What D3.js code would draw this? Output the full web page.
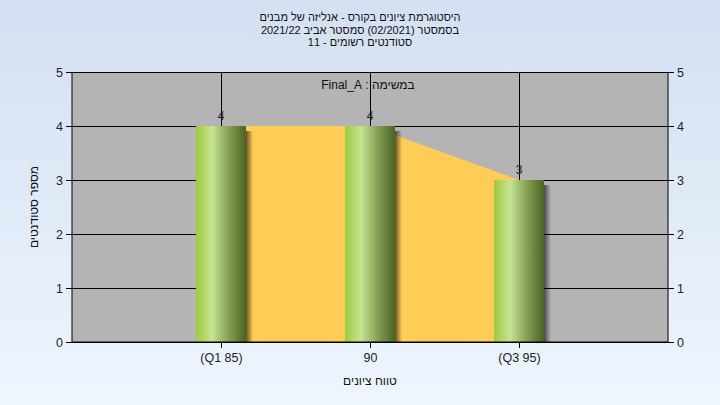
<!DOCTYPE html>
<html><head><meta charset="utf-8">
<script src="https://cdn.jsdelivr.net/npm/d3@7"></script>
<style>body{margin:0;}svg{display:block;font-family:"Liberation Sans",Arial,sans-serif;}</style>
</head><body>
<script>
const categories = ["(Q1 85)", "90", "(Q3 95)"];
const barValues = [4, 4, 3];
const areaValues = [4, 4, 3];
const yTicks = [0, 1, 2, 3, 4, 5];
const titleLines = ["היסטוגרמת ציונים בקורס - אנליזה של מבנים", "בסמסטר  (02/2021)  סמסטר אביב 2021/22", "סטודנטים רשומים - 11"];
const legendText = "במשימה : Final_A";
const xTitle = "טווח ציונים";
const yTitle = "מספר סטודנטים";

const W = 720, H = 405;
const m = {l: 72, r: 52, t: 72, b: 63};
const svg = d3.select("body").append("svg").attr("width", W).attr("height", H);
const defs = svg.append("defs");
const bg = defs.append("linearGradient").attr("id", "bg").attr("x1", 0).attr("y1", 0).attr("x2", 0).attr("y2", 1);
bg.append("stop").attr("offset", 0).attr("stop-color", "#d3e0f1");
bg.append("stop").attr("offset", 1).attr("stop-color", "#eef5fd");
const bar = defs.append("linearGradient").attr("id", "bar").attr("x1", 0).attr("y1", 0).attr("x2", 1).attr("y2", 0);
[[0, "#9ccb3c"], [0.32, "#c7e394"], [0.65, "#86a055"], [1, "#4a6422"]].forEach(s => bar.append("stop").attr("offset", s[0]).attr("stop-color", s[1]));
const sh = defs.append("linearGradient").attr("id", "sh").attr("x1", 0).attr("y1", 0).attr("x2", 1).attr("y2", 0);
sh.append("stop").attr("offset", 0).attr("stop-color", "#000").attr("stop-opacity", 0.6);
sh.append("stop").attr("offset", 1).attr("stop-color", "#000").attr("stop-opacity", 0);

svg.append("rect").attr("width", W).attr("height", H).attr("fill", "url(#bg)");

const x = d3.scaleLinear().domain([0, categories.length + 1]).range([m.l, W - m.r]);
const y = d3.scaleLinear().domain([0, 5]).range([H - m.b, m.t]);
const pw = W - m.r - m.l;

svg.append("rect").attr("x", m.l).attr("y", m.t).attr("width", pw).attr("height", y(0) - m.t).attr("fill", "#b4b4b4");

// grid
svg.append("g").selectAll("line.h").data(yTicks).join("line")
  .attr("x1", m.l).attr("x2", W - m.r).attr("y1", d => y(d) + 0.5).attr("y2", d => y(d) + 0.5)
  .attr("stroke", "#000").attr("stroke-width", 1);
svg.append("g").selectAll("line.v").data(categories).join("line")
  .attr("x1", (d, i) => Math.round(x(i + 1)) + 0.5).attr("x2", (d, i) => Math.round(x(i + 1)) + 0.5)
  .attr("y1", m.t).attr("y2", y(0)).attr("stroke", "#000");

// area
const area = d3.area().x((d, i) => x(i + 1)).y0(y(0)).y1(d => y(d));
svg.append("path").datum(areaValues).attr("d", area).attr("fill", "#ffcc55");

// bars
const bw = 50;
const bars = svg.append("g");
barValues.forEach((v, i) => {
  const cx = x(i + 1);
  bars.append("rect").attr("x", cx + bw / 2).attr("y", y(v) + 5).attr("width", 7).attr("height", y(0) - y(v) - 5).attr("fill", "url(#sh)");
  bars.append("rect").attr("x", cx - bw / 2).attr("y", y(v)).attr("width", bw).attr("height", y(0) - y(v)).attr("fill", "url(#bar)");
  svg.append("text").attr("x", cx).attr("y", y(v) - 6).attr("text-anchor", "middle").attr("font-size", 12).attr("fill", "#222").text(v);
});

// axes
const axL = d3.axisLeft(y).tickValues(yTicks).tickFormat(d3.format("d")).tickSize(6).tickPadding(3);
const axR = d3.axisRight(y).tickValues(yTicks).tickFormat(d3.format("d")).tickSize(6).tickPadding(3);
const axB = d3.axisBottom(x).tickValues(categories.map((d, i) => i + 1)).tickFormat((d) => categories[d - 1]).tickSize(6).tickPadding(5);
function style(g) {
  g.selectAll("path").attr("stroke", "#000");
  g.selectAll("line").attr("stroke", "#000");
  g.selectAll("text").attr("font-size", 12.5).attr("fill", "#222").attr("font-family", "Liberation Sans, Arial, sans-serif");
}
svg.append("g").attr("transform", `translate(${m.l},0)`).call(axL).call(style).call(g => g.select(".domain").attr("d", `M0,${m.t}V${y(0)}`));
svg.append("g").attr("transform", `translate(${W - m.r},0)`).call(axR).call(style).call(g => g.select(".domain").attr("d", `M0,${m.t}V${y(0)}`));
svg.append("g").attr("transform", `translate(0,${y(0)})`).call(axB).call(style).call(g => g.select(".domain").attr("d", `M${m.l},0H${W - m.r}`));

// titles
svg.append("g").selectAll("text").data(titleLines).join("text")
  .attr("x", 360).attr("y", (d, i) => 21 + i * 12.5).attr("text-anchor", "middle").attr("direction", "rtl")
  .attr("font-size", 11).attr("fill", "#111").text(d => d);
svg.append("text").attr("x", 368).attr("y", 89).attr("text-anchor", "middle").attr("direction", "rtl")
  .attr("font-size", 12).attr("fill", "#111").text(legendText);
svg.append("text").attr("x", 370).attr("y", 385).attr("text-anchor", "middle").attr("direction", "rtl")
  .attr("font-size", 12).attr("fill", "#111").text(xTitle);
svg.append("text").attr("transform", `translate(38,${(m.t + y(0)) / 2}) rotate(-90)`).attr("text-anchor", "middle").attr("direction", "rtl")
  .attr("font-size", 12).attr("fill", "#111").text(yTitle);
</script>
</body></html>
